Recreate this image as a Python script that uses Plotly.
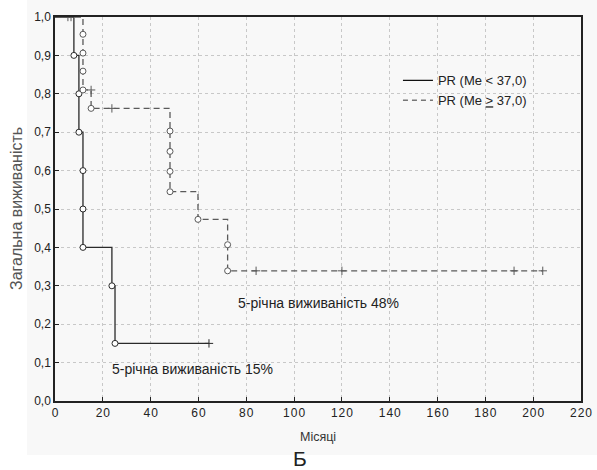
import plotly.graph_objects as go

# ---- data ----
# Group 1: PR (Me < 37,0)  -- step curve (time, survival)
a_time = [0, 7.9, 10.0, 10.0, 11.7, 11.7, 11.7, 23.8, 25.1, 64.4]
a_surv = [1.0, 0.9, 0.8, 0.7, 0.6, 0.5, 0.4, 0.3, 0.15, 0.15]
a_event_time = [7.9, 10.0, 10.0, 11.7, 11.7, 11.7, 23.8, 25.1]
a_event_surv = [0.9, 0.8, 0.7, 0.6, 0.5, 0.4, 0.3, 0.15]
a_cens_time = [64.4]
a_cens_surv = [0.15]

# Group 2: PR (Me >= 37,0)
b_time = [0, 11.7, 11.7, 11.7, 11.7, 15.1, 48.1, 48.1, 48.1, 48.1, 59.8, 72.2, 72.2, 204]
b_surv = [1.0, 0.955, 0.906, 0.859, 0.81, 0.762, 0.703, 0.65, 0.598, 0.545, 0.473, 0.407, 0.339, 0.339]
b_event_time = [11.7, 11.7, 11.7, 11.7, 15.1, 48.1, 48.1, 48.1, 48.1, 59.8, 72.2, 72.2]
b_event_surv = [0.955, 0.906, 0.859, 0.81, 0.762, 0.703, 0.65, 0.598, 0.545, 0.473, 0.407, 0.339]
b_cens_time = [5.4, 6.7, 15.1, 23.8, 84.1, 120, 192, 204]
b_cens_surv = [1.0, 1.0, 0.81, 0.762, 0.339, 0.339, 0.339, 0.339]

x_ticks = [0, 20, 40, 60, 80, 100, 120, 140, 160, 180, 200, 220]
y_ticks = [0.0, 0.1, 0.2, 0.3, 0.4, 0.5, 0.6, 0.7, 0.8, 0.9, 1.0]

label_a = "PR (Me < 37,0)"
label_b = "PR (Me <u>&gt;</u> 37,0)"
note_b = "5-річна виживаність 48%"
note_a = "5-річна виживаність 15%"

W, H = 597, 470
L, R, T, B = 55, 16, 17, 69
FONT = "Liberation Sans, Arial, sans-serif"
col_a = "#2a2a2a"
col_b = "#5a5a5a"

fig = go.Figure()

# background panel (gray)
fig.add_shape(type="rect", xref="paper", yref="paper",
              x0=-(L - 27) / (W - L - R), x1=(W - L) / (W - L - R),
              y0=-(455 - (H - B)) / (H - T - B), y1=(H - B) / (H - T - B),
              fillcolor="#f8f8f8", line=dict(width=0), layer="below")

# step lines
fig.add_trace(go.Scatter(x=a_time, y=a_surv, mode="lines", line_shape="hv",
                         line=dict(color=col_a, width=1.3), showlegend=False, hoverinfo="skip"))
fig.add_trace(go.Scatter(x=b_time, y=b_surv, mode="lines", line_shape="hv",
                         line=dict(color=col_b, width=1.3, dash="6px,4px"), showlegend=False, hoverinfo="skip"))

# censored marks
fig.add_trace(go.Scatter(x=a_cens_time, y=a_cens_surv, mode="markers",
                         marker=dict(symbol="cross-thin", size=6, line=dict(color=col_a, width=1)),
                         showlegend=False))
fig.add_trace(go.Scatter(x=b_cens_time, y=b_cens_surv, mode="markers",
                         marker=dict(symbol="cross-thin", size=6, line=dict(color=col_b, width=1)),
                         showlegend=False))

# event circles
fig.add_trace(go.Scatter(x=a_event_time, y=a_event_surv, mode="markers",
                         marker=dict(symbol="circle", size=6, color="white", line=dict(color=col_a, width=1)),
                         showlegend=False))
fig.add_trace(go.Scatter(x=b_event_time, y=b_event_surv, mode="markers",
                         marker=dict(symbol="circle", size=6, color="white", line=dict(color=col_b, width=1)),
                         showlegend=False))

# legend entries
fig.add_trace(go.Scatter(x=[None], y=[None], mode="lines", name=label_a,
                         line=dict(color="#111111", width=1.3)))
fig.add_trace(go.Scatter(x=[None], y=[None], mode="lines", name=label_b,
                         line=dict(color="#777777", width=1.3, dash="5px,4px")))

fig.update_layout(
    width=W, height=H,
    margin=dict(l=L, r=R, t=T, b=B),
    paper_bgcolor="white",
    plot_bgcolor="white",
    separators=", ",
    font=dict(family=FONT, size=12, color="#222"),
    legend=dict(x=0.652, y=0.874, xanchor="left", yanchor="top",
                bgcolor="rgba(0,0,0,0)", font=dict(size=13, color="#222"),
                tracegroupgap=0, itemwidth=30),
    xaxis=dict(range=[0, 220], tickvals=x_ticks,
               ticktext=["\u200a".join(str(v)) for v in x_ticks],
               ticks="inside", ticklen=4, tickcolor="#222",
               showline=True, linecolor="#222", linewidth=1.5, mirror=True,
               showgrid=True, gridcolor="#c8c8c8", griddash="dot", gridwidth=1,
               zeroline=False, tickfont=dict(size=12, color="#222"), automargin=False),
    yaxis=dict(range=[0, 1.0], tickvals=y_ticks, tickformat=".1f",
               ticks="inside", ticklen=4, tickcolor="#222",
               showline=True, linecolor="#222", linewidth=1.5, mirror=True,
               showgrid=True, gridcolor="#c8c8c8", griddash="dot", gridwidth=1,
               zeroline=False, tickfont=dict(size=12, color="#222"), automargin=False),
    annotations=[
        dict(x=110, y=0.254, xref="x", yref="y", text=note_b, showarrow=False,
             xanchor="center", font=dict(size=14, color="#222")),
        dict(x=57.3, y=0.083, xref="x", yref="y", text=note_a, showarrow=False,
             xanchor="center", font=dict(size=14, color="#222")),
        dict(x=0, y=0.5, xref="paper", yref="paper", xshift=-39, xanchor="center",
             text="Загальна виживаність",
             textangle=-90, showarrow=False, font=dict(size=16, color="#555")),
        dict(x=0.5, y=0, xref="paper", yref="paper", yshift=-45, xanchor="center",
             text="Місяці", showarrow=False, font=dict(size=12.5, color="#333")),
        dict(x=(300 - L) / (W - L - R), y=0, xref="paper", yref="paper", yshift=-71,
             xanchor="center", text="Б", showarrow=False, font=dict(size=21, color="#222")),
    ],
)

fig.write_html("out.html", config={"displayModeBar": False},
               post_script="document.body.style.margin='0px';")
